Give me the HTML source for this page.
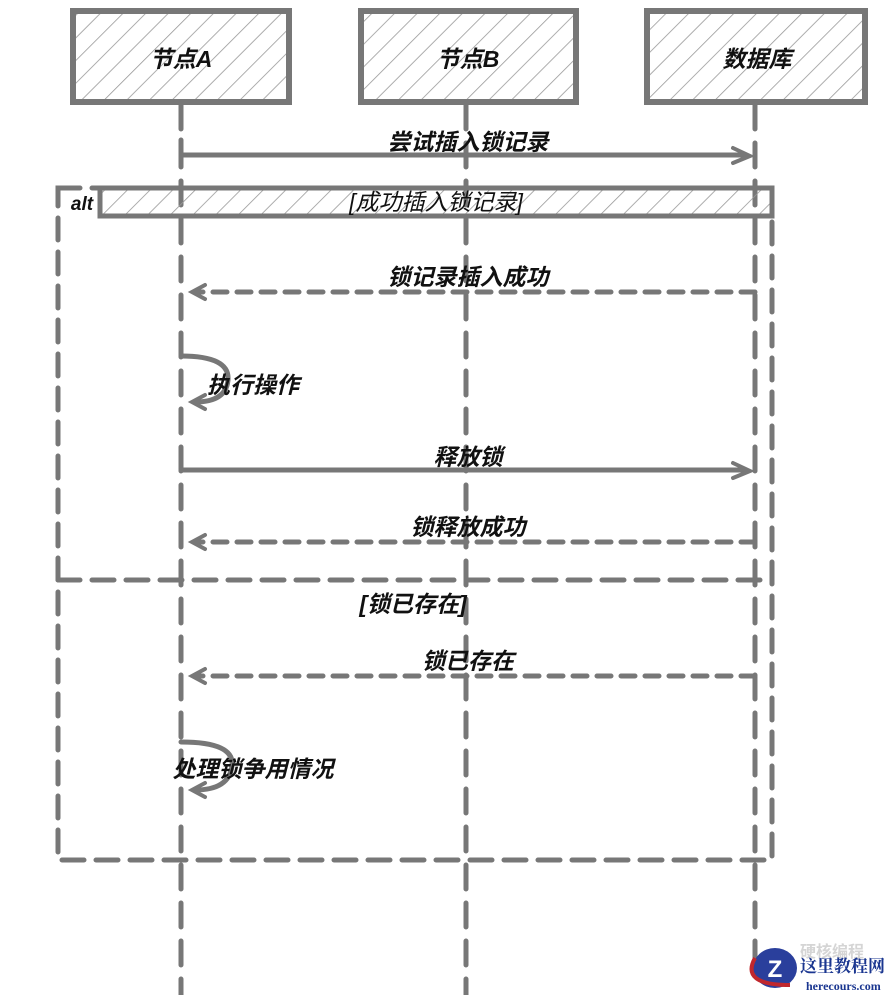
<!DOCTYPE html>
<html><head><meta charset="utf-8"><style>
body{margin:0;background:#fff;width:890px;height:995px;overflow:hidden}
text{font-family:"Liberation Sans","Noto Sans CJK SC",sans-serif;font-weight:bold;font-style:italic;fill:#111}
</style></head><body>
<svg width="890" height="995" viewBox="0 0 890 995">
<defs>
<pattern id="h" width="16" height="16" patternUnits="userSpaceOnUse" patternTransform="rotate(45)">
<line x1="0" y1="0" x2="0" y2="16" stroke="#999" stroke-width="1.6"/></pattern>
</defs>
<g stroke="#777" fill="none" stroke-linecap="round">
<g stroke-width="5" stroke-dasharray="24 14">
<line x1="181" y1="105" x2="181" y2="995"/>
<line x1="466" y1="105" x2="466" y2="995"/>
<line x1="755" y1="105" x2="755" y2="960"/>
</g>
<rect x="73" y="11" width="216" height="91" fill="url(#h)" stroke-width="6"/>
<rect x="361" y="11" width="215" height="91" fill="url(#h)" stroke-width="6"/>
<rect x="647" y="11" width="218" height="91" fill="url(#h)" stroke-width="6"/>
<rect x="58" y="188" width="714" height="672" stroke-width="5" stroke-dasharray="22 12"/>
<rect x="100" y="188" width="672" height="28" fill="url(#h)" stroke-width="5"/>
<line x1="58" y1="580" x2="772" y2="580" stroke-width="5" stroke-dasharray="22 12"/>
<path d="M181 140 V155 H745" stroke-width="5"/>
<path d="M733 148 L750 156 L733 163" stroke-width="4"/>
<line x1="755" y1="292" x2="195" y2="292" stroke-width="5" stroke-dasharray="14 10"/>
<path d="M205 285 L192 292 L205 299" stroke-width="4"/>
<path d="M181 356 Q230 356 228 380 Q226 402 195 402" stroke-width="5"/>
<path d="M205 395 L192 402 L205 409" stroke-width="4"/>
<line x1="181" y1="470" x2="745" y2="470" stroke-width="5"/>
<path d="M733 463 L750 471 L733 478" stroke-width="4"/>
<line x1="755" y1="542" x2="195" y2="542" stroke-width="5" stroke-dasharray="14 10"/>
<path d="M205 535 L192 542 L205 549" stroke-width="4"/>
<line x1="755" y1="676" x2="195" y2="676" stroke-width="5" stroke-dasharray="14 10"/>
<path d="M205 669 L192 676 L205 683" stroke-width="4"/>
<path d="M181 742 Q235 742 232 766 Q229 790 195 790" stroke-width="5"/>
<path d="M205 783 L192 790 L205 797" stroke-width="4"/>
</g>
<g font-size="23" text-anchor="middle">
<text x="181" y="67">节点A</text>
<text x="468" y="67">节点B</text>
<text x="757" y="67">数据库</text>
<text x="468" y="150">尝试插入锁记录</text>
<text x="436" y="210" style="font-weight:normal">[成功插入锁记录]</text>
<text x="468" y="285">锁记录插入成功</text>
<text x="253" y="393">执行操作</text>
<text x="468" y="465">释放锁</text>
<text x="468" y="535">锁释放成功</text>
<text x="413" y="612">[锁已存在]</text>
<text x="468" y="669">锁已存在</text>
<text x="253" y="777">处理锁争用情况</text>
<text x="82" y="210" font-size="19">alt</text>
</g>
<text x="800" y="957" font-size="16" style="fill:#d5d5d5;font-style:normal">硬核编程</text>
<ellipse cx="775" cy="968" rx="22" ry="20" fill="#2a3f9c"/>
<path d="M755 958 Q740 985 790 985" stroke="#c0272d" stroke-width="4" fill="none"/>
<text x="775" y="977" font-size="24" text-anchor="middle" style="fill:#fff;font-style:normal">Z</text>
<text x="800" y="972" font-size="17" style="fill:#1a3690;font-style:normal;font-family:'Noto Serif CJK SC',serif">这里教程网</text>
<text x="806" y="990" font-size="12" style="fill:#1a3690;font-style:normal;font-family:'Liberation Serif',serif">herecours.com</text>
</svg>
</body></html>
